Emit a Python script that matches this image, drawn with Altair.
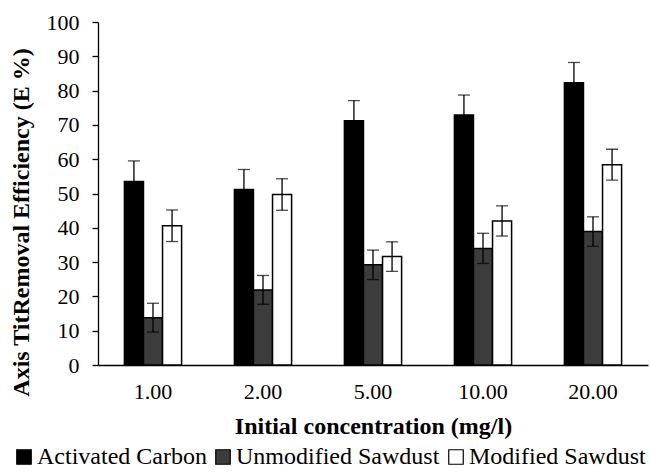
import altair as alt
import pandas as pd

concentrations = ["1.00", "2.00", "5.00", "10.00", "20.00"]
series = ["Activated Carbon", "Unmodified Sawdust", "Modified Sawdust"]

activated_carbon = [53.5, 51.2, 71.2, 72.9, 82.3]
activated_carbon_err = [6.0, 5.8, 5.9, 5.8, 5.9]
unmodified_sawdust = [13.8, 21.9, 29.2, 34.0, 38.9]
unmodified_sawdust_err = [4.2, 4.2, 4.3, 4.4, 4.3]
modified_sawdust = [40.6, 49.7, 31.6, 42.0, 58.4]
modified_sawdust_err = [4.6, 4.6, 4.3, 4.4, 4.5]

values = [activated_carbon, unmodified_sawdust, modified_sawdust]
errors = [activated_carbon_err, unmodified_sawdust_err, modified_sawdust_err]

rows = []
for s, vals, errs in zip(series, values, errors):
    for c, v, e in zip(concentrations, vals, errs):
        rows.append({"conc": c, "series": s, "value": v,
                     "lo": v - e, "hi": v + e})
df = pd.DataFrame(rows)

FONT = "'Times New Roman', 'Liberation Serif', serif"

x_axis = alt.Axis(
    title="Initial concentration (mg/l)", labelAngle=0, ticks=False, tickSize=0,
    labelPadding=16, labelFontSize=22, labelFont=FONT, labelColor="black",
    titleFont=FONT, titleFontSize=24, titleFontWeight="bold", titleColor="black",
    titleY=68, titleBaseline="alphabetic",
    domainColor="black", domainWidth=1.3, labelOverlap=False,
)
y_axis = alt.Axis(
    title="Axis TitRemoval Efficiency (E %)", values=list(range(0, 101, 10)),
    grid=False, tickSize=6, tickColor="black", tickWidth=1.3,
    labelPadding=13, labelFontSize=22, labelFont=FONT, labelColor="black",
    labelOverlap=False,
    domainColor="black", domainWidth=1.3,
    titleFont=FONT, titleFontSize=24, titleFontWeight="bold", titleColor="black",
    titleAngle=270, titleX=-77, titleY=200, titleAlign="center",
    titleBaseline="middle",
)
x_scale = alt.Scale(paddingInner=0.48, paddingOuter=0.24)
y_scale = alt.Scale(domain=[0, 100], nice=False)
xoff = alt.XOffset("series:N", sort=series)


def xenc():
    return alt.X("conc:N", sort=concentrations, scale=x_scale, axis=x_axis)


bars = alt.Chart(df).mark_bar(stroke="black", strokeWidth=1.5).encode(
    x=xenc(),
    xOffset=xoff,
    y=alt.Y("value:Q", scale=y_scale, axis=y_axis),
    fill=alt.Fill(
        "series:N", sort=series,
        scale=alt.Scale(domain=series, range=["#000000", "#3c3c3c", "#ffffff"]),
        legend=alt.Legend(
            title=None, orient="none", direction="horizontal", legendX=-86, legendY=423,
            symbolType="square", symbolSize=210, symbolStrokeColor="black",
            symbolStrokeWidth=1.2, labelFont=FONT, labelFontSize=24, labelColor="black",
            labelOffset=1, columnPadding=4, padding=0, labelLimit=0,
        ),
    ),
)

err_rule = alt.Chart(df).mark_rule(color="black", strokeWidth=1.3).encode(
    x=xenc(),
    xOffset=xoff,
    y=alt.Y("lo:Q", scale=y_scale, axis=y_axis),
    y2="hi:Q",
)
cap_hi = alt.Chart(df).mark_tick(color="black", thickness=1.3, size=12).encode(
    x=xenc(),
    xOffset=xoff,
    y=alt.Y("hi:Q", scale=y_scale, axis=y_axis),
)
cap_lo = alt.Chart(df).mark_tick(color="black", thickness=1.3, size=12).encode(
    x=xenc(),
    xOffset=xoff,
    y=alt.Y("lo:Q", scale=y_scale, axis=y_axis),
)

chart = alt.layer(bars, err_rule, cap_hi, cap_lo).properties(
    width=550, height=343,
    autosize=alt.AutoSizeParams(type="none"),
    padding={"left": 98, "top": 22, "right": 2, "bottom": 109},
    background="white",
).configure(font=FONT).configure_view(stroke=None)

chart.save("out.html", embed_options={"renderer": "svg", "actions": False})
